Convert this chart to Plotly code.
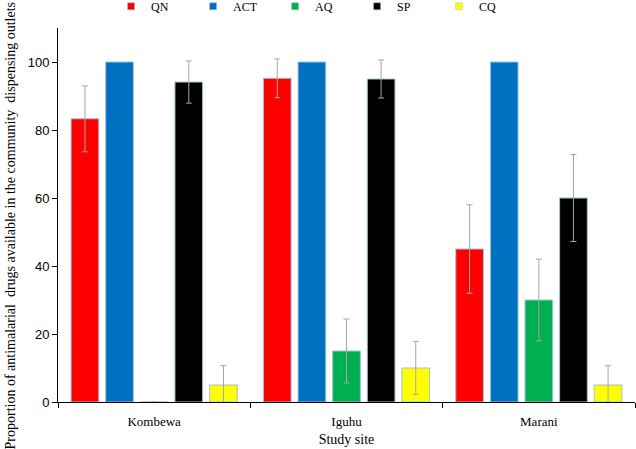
import plotly.graph_objects as go

sites = ["Kombewa", "Iguhu", "Marani"]
drugs = ["QN", "ACT", "AQ", "SP", "CQ"]
colors = ["#FF0000", "#0070C0", "#00B050", "#000000", "#FFFF00"]
values = {
    "QN": [83.3, 95.2, 45.0],
    "ACT": [100, 100, 100],
    "AQ": [0, 15.0, 30.0],
    "SP": [94.1, 95.0, 60.0],
    "CQ": [5.0, 10.0, 5.0],
}
errors = {
    "QN": [9.7, 5.7, 13.0],
    "ACT": [0, 0, 0],
    "AQ": [0, 9.4, 12.0],
    "SP": [6.2, 5.6, 12.8],
    "CQ": [5.7, 7.8, 5.7],
}
y_title = "Proportion of antimalarial  drugs available in the community  dispensing outlets"

serif = "Liberation Serif, Times New Roman, serif"
sans = "Liberation Sans, Arial, sans-serif"

fig = go.Figure()
for d, c in zip(drugs, colors):
    errs = errors[d]
    show = any(e > 0 for e in errs)
    fig.add_trace(go.Bar(
        name=d, x=sites, y=values[d], showlegend=False,
        marker=dict(color=c, line=dict(color="#9ec3d3", width=1)),
        error_y=dict(type="data", array=errs, visible=show, color="#a6a6a6", thickness=1, width=3),
    ))
# legend entries with small square keys
for d, c in zip(drugs, colors):
    fig.add_trace(go.Scatter(
        name=d, x=[None], y=[None], mode="markers",
        marker=dict(symbol="square", size=7, color=c, line=dict(color="#9ec3d3", width=0.5)),
        showlegend=True,
    ))

fig.add_annotation(text=y_title, textangle=-90, xref="paper", yref="paper",
                   x=0, xshift=-48, y=0.472, xanchor="center", yanchor="middle",
                   showarrow=False, font=dict(family=serif, size=14, color="black"))

fig.update_layout(
    width=636, height=449,
    barmode="group", bargap=0.1, bargroupgap=0.2,
    margin=dict(l=58, r=1, t=28, b=47, autoexpand=False),
    plot_bgcolor="white", paper_bgcolor="white",
    showlegend=True,
    legend=dict(orientation="h", x=0.092, xanchor="left", y=1.058, yanchor="middle",
                font=dict(family=serif, size=12, color="black"),
                entrywidth=37, entrywidthmode="pixels", itemwidth=30,
                bgcolor="rgba(0,0,0,0)"),
    xaxis=dict(showline=True, linecolor="black", linewidth=1, ticks="outside",
               tickson="boundaries", ticklen=5, tickcolor="black", automargin=False,
               ticklabelstandoff=7,
               tickfont=dict(family=serif, size=13, color="black"),
               title=dict(text="Study site", font=dict(family=serif, size=14, color="black"), standoff=6)),
    yaxis=dict(range=[0, 110], tickvals=[0, 20, 40, 60, 80, 100], showline=True,
               linecolor="black", linewidth=1, ticks="outside", ticklen=5, tickcolor="black",
               showgrid=False, zeroline=False, automargin=False,
               tickfont=dict(family=sans, size=13, color="black")),
)

fig.write_html("out.html", config={"displayModeBar": False},
               post_script="document.body.style.margin='0';")
